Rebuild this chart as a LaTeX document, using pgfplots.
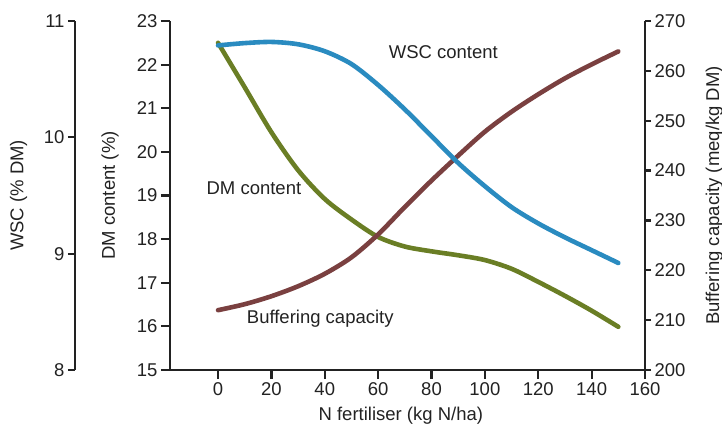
\documentclass[border=0pt]{standalone}
\usepackage{fontspec}
\setmainfont{Liberation Sans}
\usepackage{pgfplots}
\pgfplotsset{compat=1.18}
\definecolor{wscblue}{HTML}{2A8BC0}
\definecolor{dmgreen}{HTML}{6A7E25}
\definecolor{bcbrown}{HTML}{7A4040}
\definecolor{axgray}{HTML}{222222}
\newcommand{\chartfont}{\fontsize{18.5}{21}\selectfont}
\pgfplotsset{
  base/.style={
    scale only axis, width=475pt, height=349pt,
    xmin=-18, xmax=160,
    tick align=outside, major tick length=9pt,
    every tick/.style={line width=2.2pt, draw=axgray},
    axis line style={line width=2.6pt, draw=axgray},
    tick label style={font=\chartfont, text=axgray},
    label style={font=\chartfont, text=axgray},
    /pgf/number format/assume math mode=true,
    clip=false,
  },
  curve/.style={line width=4.6pt, line cap=round, line join=round, smooth, no markers},
}
\begin{document}
\begin{tikzpicture}
% DM content (main frame)
\begin{axis}[base,
  axis x line*=bottom, axis y line*=left,
  ymin=15, ymax=23, ytick={15,16,...,23},
  xtick={0,20,...,160},
  xlabel={N fertiliser (kg N/ha)},
  ylabel={DM content (\%)},
  xlabel style={at={(rel axis cs:0.486,-0.132)}, anchor=center},
  ylabel style={at={(rel axis cs:-0.126,0.5)}, anchor=center},
]
\addplot[curve, dmgreen] coordinates {
 (0,22.50) (10,21.48) (20,20.45) (30,19.58) (40,18.92) (50,18.45) (60,18.05)
 (70,17.83) (80,17.72) (90,17.63) (100,17.52) (110,17.32) (120,17.02)
 (130,16.70) (140,16.36) (150,15.99)};
\node[font=\chartfont, text=axgray, anchor=west] at (axis cs:-5.6,19.17) {DM content};
\coordinate (sw) at (rel axis cs:0,0);
\coordinate (ne) at (rel axis cs:1,1);
\end{axis}
% Buffering capacity (right axis)
\begin{axis}[base,
  axis x line=none, axis y line*=right,
  major tick length=6pt,
  ymin=200, ymax=270, ytick={200,210,...,270},
  ylabel={Buffering capacity (meq/kg DM)},
  ylabel style={at={(rel axis cs:1.146,0.5)}, anchor=center},
]
\addplot[curve, bcbrown] coordinates {
 (0,212.0) (10,213.2) (20,214.8) (30,216.8) (40,219.3) (50,222.6) (60,227.2)
 (70,232.7) (80,238.0) (90,243.0) (100,247.8) (110,251.8) (120,255.3)
 (130,258.5) (140,261.3) (150,263.9)};
\node[font=\chartfont, text=axgray, anchor=west] at (axis cs:9.5,210.2) {Buffering capacity};
\end{axis}
% WSC (shifted left axis)
\begin{axis}[base,
  axis x line=none, axis y line*=left,
  axis y line shift=95pt,
  major tick length=7pt,
  ymin=8, ymax=11, ytick={8,9,10,11},
  ylabel={WSC (\% DM)},
  ylabel style={at={(rel axis cs:-0.319,0.5)}, anchor=center},
]
\addplot[curve, wscblue] coordinates {
 (0,10.79) (10,10.81) (20,10.82) (30,10.80) (40,10.74) (50,10.63) (60,10.45)
 (70,10.24) (80,10.01) (90,9.78) (100,9.58) (110,9.40) (120,9.26)
 (130,9.14) (140,9.03) (150,8.92)};
\node[font=\chartfont, text=axgray, anchor=west] at (axis cs:62.7,10.73) {WSC content};
\end{axis}
\pgfresetboundingbox
\path ([xshift=-170pt,yshift=-59pt]sw) rectangle ([xshift=77pt,yshift=21pt]ne);
\end{tikzpicture}
\end{document}
